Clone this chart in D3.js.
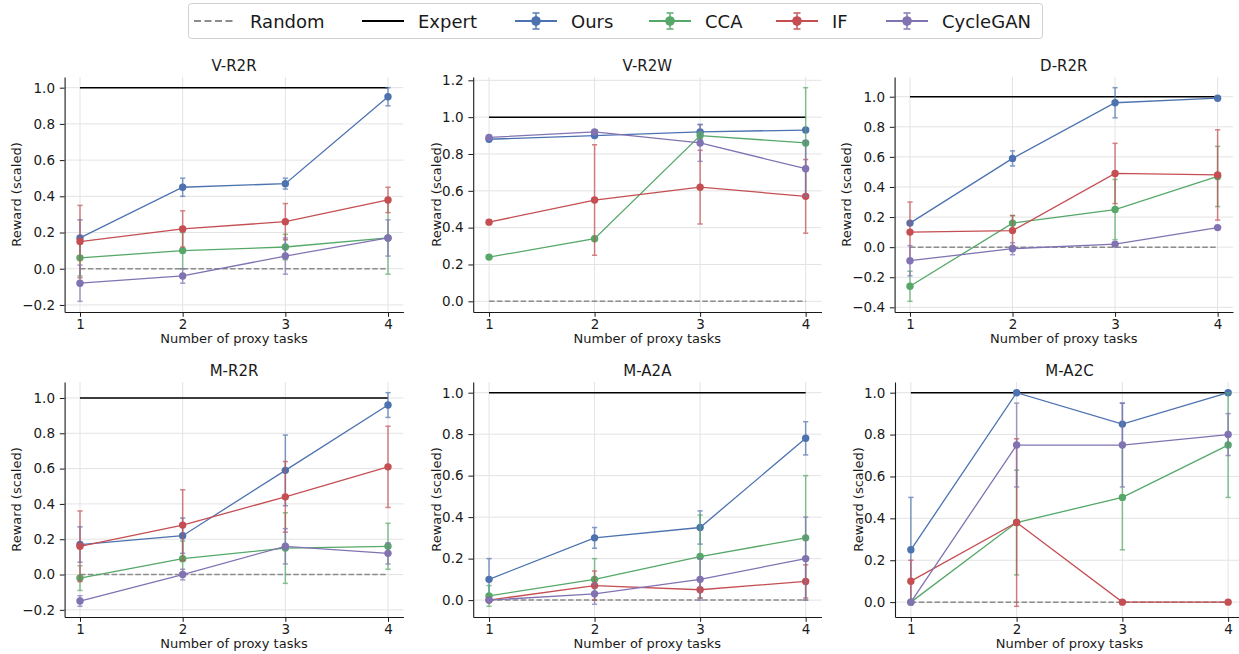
<!DOCTYPE html>
<html>
<head>
<meta charset="utf-8">
<script src="https://cdn.jsdelivr.net/npm/d3@7"></script>
<style>
  html, body { margin: 0; padding: 0; background: #fff; }
  svg { display: block; font-family: "DejaVu Sans", sans-serif; }
</style>
</head>
<body>
<svg id="chart" width="1239" height="654"></svg>
<script>
// ---------------- DATA ----------------
const tasks = [1, 2, 3, 4];
const methods = ["Ours", "CCA", "IF", "CycleGAN"];
const panelTitles = ["V-R2R", "V-R2W", "D-R2R", "M-R2R", "M-A2A", "M-A2C"];
const randomLevel = 0.0;
const expertLevel = 1.0;

// rows: Ours, CCA, IF, CycleGAN
const vR2R_mean = [[0.17, 0.45, 0.47, 0.95], [0.06, 0.10, 0.12, 0.17], [0.15, 0.22, 0.26, 0.38], [-0.08, -0.04, 0.07, 0.17]];
const vR2R_err  = [[0.10, 0.05, 0.03, 0.05], [0.10, 0.10, 0.07, 0.20], [0.20, 0.10, 0.10, 0.07], [0.10, 0.04, 0.10, 0.10]];

const vR2W_mean = [[0.88, 0.90, 0.92, 0.93], [0.24, 0.34, 0.90, 0.86], [0.43, 0.55, 0.62, 0.57], [0.89, 0.92, 0.86, 0.72]];
const vR2W_err  = [[0.01, 0.01, 0.04, 0.01], [0.01, 0.01, 0.02, 0.30], [0.01, 0.30, 0.20, 0.20], [0.01, 0.01, 0.10, 0.15]];

const dR2R_mean = [[0.16, 0.59, 0.96, 0.99], [-0.26, 0.16, 0.25, 0.47], [0.10, 0.11, 0.49, 0.48], [-0.09, -0.01, 0.02, 0.13]];
const dR2R_err  = [[0.01, 0.05, 0.10, 0.01], [0.10, 0.05, 0.20, 0.20], [0.20, 0.10, 0.20, 0.30], [0.10, 0.04, 0.01, 0.01]];

const mR2R_mean = [[0.17, 0.22, 0.59, 0.96], [-0.02, 0.09, 0.15, 0.16], [0.16, 0.28, 0.44, 0.61], [-0.15, 0.00, 0.16, 0.12]];
const mR2R_err  = [[0.10, 0.10, 0.20, 0.07], [0.07, 0.10, 0.20, 0.13], [0.20, 0.20, 0.20, 0.23], [0.03, 0.03, 0.10, 0.06]];

const mA2A_mean = [[0.10, 0.30, 0.35, 0.78], [0.02, 0.10, 0.21, 0.30], [0.00, 0.07, 0.05, 0.09], [0.00, 0.03, 0.10, 0.20]];
const mA2A_err  = [[0.10, 0.05, 0.08, 0.08], [0.05, 0.10, 0.20, 0.30], [0.01, 0.07, 0.04, 0.08], [0.01, 0.05, 0.10, 0.20]];

const mA2C_mean = [[0.25, 1.00, 0.85, 1.00], [0.00, 0.38, 0.50, 0.75], [0.10, 0.38, 0.00, 0.00], [0.00, 0.75, 0.75, 0.80]];
const mA2C_err  = [[0.25, 0.00, 0.10, 0.00], [0.00, 0.25, 0.25, 0.25], [0.10, 0.40, 0.00, 0.00], [0.00, 0.20, 0.20, 0.10]];

const yTicks_vR2R = [-0.2, 0.0, 0.2, 0.4, 0.6, 0.8, 1.0];
const yTicks_vR2W = [0.0, 0.2, 0.4, 0.6, 0.8, 1.0, 1.2];
const yTicks_dR2R = [-0.4, -0.2, 0.0, 0.2, 0.4, 0.6, 0.8, 1.0];
const yTicks_mR2R = [-0.2, 0.0, 0.2, 0.4, 0.6, 0.8, 1.0];
const yTicks_mA2A = [0.0, 0.2, 0.4, 0.6, 0.8, 1.0];
const yTicks_mA2C = [0.0, 0.2, 0.4, 0.6, 0.8, 1.0];

const xLabel = "Number of proxy tasks";
const yLabel = "Reward (scaled)";

// ---------------- STYLE / LAYOUT ----------------
const colors = { Ours: "#4C72B0", CCA: "#55A868", IF: "#C44E52", CycleGAN: "#8172B2" };
const randomColor = "#8c8c8c";
const expertColor = "#000000";

const panelMeans = [vR2R_mean, vR2W_mean, dR2R_mean, mR2R_mean, mA2A_mean, mA2C_mean];
const panelErrs  = [vR2R_err, vR2W_err, dR2R_err, mR2R_err, mA2A_err, mA2C_err];
const panelTicks = [yTicks_vR2R, yTicks_vR2W, yTicks_dR2R, yTicks_mR2R, yTicks_mA2A, yTicks_mA2C];

const boxes = [
  { x0: 64.6, x1: 403.4, y0: 77, y1: 312 },
  { x0: 473.2, x1: 821.5, y0: 77, y1: 312 },
  { x0: 894.6, x1: 1233.0, y0: 77, y1: 312 },
  { x0: 64.6, x1: 403.4, y0: 382, y1: 617 },
  { x0: 473.2, x1: 821.5, y0: 382, y1: 617 },
  { x0: 895.0, x1: 1244.0, y0: 382, y1: 617 }
];

const tickFont = 13.5, labelFont = 13, titleFont = 15, legendFont = 18;
const tickLen = 4.8, tickPad = 4.8;
const fmt = d3.format(".1f");

const svg = d3.select("#chart");

panelTitles.forEach((title, pi) => {
  const b = boxes[pi];
  const means = panelMeans[pi];
  const errs = panelErrs[pi];

  // y domain: data extents incl. errors, random & expert, with 5% margin
  let lo = Math.min(randomLevel, expertLevel), hi = Math.max(randomLevel, expertLevel);
  means.forEach((row, mi) => row.forEach((v, i) => {
    lo = Math.min(lo, v - errs[mi][i]);
    hi = Math.max(hi, v + errs[mi][i]);
  }));
  const pad = (hi - lo) * 0.05;
  const x = d3.scaleLinear().domain([tasks[0] - 0.15, tasks[tasks.length - 1] + 0.15]).range([b.x0, b.x1]);
  const y = d3.scaleLinear().domain([lo - pad, hi + pad]).range([b.y1, b.y0]);

  const g = svg.append("g");

  // grid
  g.append("g").selectAll("line").data(panelTicks[pi]).join("line")
    .attr("x1", b.x0).attr("x2", b.x1)
    .attr("y1", d => y(d)).attr("y2", d => y(d))
    .attr("stroke", "#e3e3e3").attr("stroke-width", 1);
  g.append("g").selectAll("line").data(tasks).join("line")
    .attr("x1", d => x(d)).attr("x2", d => x(d))
    .attr("y1", b.y0).attr("y2", b.y1)
    .attr("stroke", "#e3e3e3").attr("stroke-width", 1);

  // random & expert lines
  g.append("line")
    .attr("x1", x(tasks[0])).attr("x2", x(tasks[tasks.length - 1]))
    .attr("y1", y(randomLevel)).attr("y2", y(randomLevel))
    .attr("stroke", randomColor).attr("stroke-width", 1.5)
    .attr("stroke-dasharray", "5.5,2.4");
  g.append("line")
    .attr("x1", x(tasks[0])).attr("x2", x(tasks[tasks.length - 1]))
    .attr("y1", y(expertLevel)).attr("y2", y(expertLevel))
    .attr("stroke", expertColor).attr("stroke-width", 1.5);

  // series
  methods.forEach((m, mi) => {
    const c = colors[m];
    const pts = tasks.map((t, i) => ({ t, v: means[mi][i], e: errs[mi][i] }));
    const sg = g.append("g");
    // error bars
    const eb = sg.append("g").attr("stroke", c).attr("stroke-width", 1.5).attr("opacity", 0.7);
    pts.forEach(p => {
      if (p.e <= 0) return;
      eb.append("line").attr("x1", x(p.t)).attr("x2", x(p.t))
        .attr("y1", y(p.v - p.e)).attr("y2", y(p.v + p.e));
      [p.v - p.e, p.v + p.e].forEach(cv => {
        eb.append("line").attr("x1", x(p.t) - 2.6).attr("x2", x(p.t) + 2.6)
          .attr("y1", y(cv)).attr("y2", y(cv));
      });
    });
    sg.append("path").datum(pts)
      .attr("fill", "none").attr("stroke", c).attr("stroke-width", 1.3)
      .attr("d", d3.line().x(d => x(d.t)).y(d => y(d.v)));
    sg.selectAll("circle").data(pts).join("circle")
      .attr("cx", d => x(d.t)).attr("cy", d => y(d.v)).attr("r", 3.7)
      .attr("fill", c);
  });

  // axes
  const ya = g.append("g").attr("transform", `translate(${b.x0},0)`)
    .call(d3.axisLeft(y).tickValues(panelTicks[pi]).tickFormat(fmt)
      .tickSize(tickLen).tickPadding(tickPad).tickSizeOuter(0));
  const xa = g.append("g").attr("transform", `translate(0,${b.y1})`)
    .call(d3.axisBottom(x).tickValues(tasks).tickFormat(d3.format("d"))
      .tickSize(tickLen).tickPadding(tickPad).tickSizeOuter(0));
  [ya, xa].forEach(a => {
    a.selectAll("text").attr("font-size", tickFont).attr("fill", "#1a1a1a")
      .attr("font-family", "DejaVu Sans");
    a.selectAll("line").attr("stroke", "#1a1a1a").attr("stroke-width", 1);
    a.select(".domain").attr("stroke", "#1a1a1a").attr("stroke-width", 1.1);
  });
  xa.selectAll("text").attr("dy", null).attr("y", null)
    .attr("transform", null).attr("dominant-baseline", null)
    .attr("y", 17);

  // title
  g.append("text").attr("x", (b.x0 + Math.min(b.x1, 1239 + (b.x1 - 1239))) / 2)
    .attr("y", b.y0 - 6).attr("text-anchor", "middle")
    .attr("font-size", titleFont).attr("fill", "#1a1a1a").text(title);

  // x label
  g.append("text").attr("x", (b.x0 + b.x1) / 2).attr("y", b.y1 + 31)
    .attr("text-anchor", "middle").attr("font-size", labelFont).attr("fill", "#1a1a1a")
    .text(xLabel);

  // y label
  const bb = ya.node().getBBox();
  const bx = b.x0 + bb.x - 1;
  g.append("text").attr("transform", `translate(${bx},${(b.y0 + b.y1) / 2}) rotate(-90)`)
    .attr("text-anchor", "middle").attr("font-size", labelFont).attr("fill", "#1a1a1a")
    .text(yLabel);
});

// ---------------- LEGEND ----------------
const legendItems = [
  { name: "Random", kind: "dash", color: randomColor, tx: 250 },
  { name: "Expert", kind: "line", color: expertColor, tx: 418 },
  { name: "Ours", kind: "err", color: colors.Ours, tx: 571 },
  { name: "CCA", kind: "err", color: colors.CCA, tx: 705 },
  { name: "IF", kind: "err", color: colors.IF, tx: 832 },
  { name: "CycleGAN", kind: "err", color: colors.CycleGAN, tx: 942 }
];
const lg = svg.append("g");
lg.append("rect").attr("x", 188.5).attr("y", 3.5).attr("width", 854).attr("height", 35)
  .attr("rx", 3).attr("fill", "#fff").attr("fill-opacity", 0.8)
  .attr("stroke", "#d0d0d0").attr("stroke-width", 1);
const ly = 21;
legendItems.forEach(it => {
  const hx1 = it.tx - 14, hx0 = hx1 - 42, hm = (hx0 + hx1) / 2;
  if (it.kind === "dash") {
    lg.append("line").attr("x1", hx0).attr("x2", hx1).attr("y1", ly).attr("y2", ly)
      .attr("stroke", it.color).attr("stroke-width", 2).attr("stroke-dasharray", "7,3.5");
  } else if (it.kind === "line") {
    lg.append("line").attr("x1", hx0).attr("x2", hx1).attr("y1", ly).attr("y2", ly)
      .attr("stroke", it.color).attr("stroke-width", 2);
  } else {
    lg.append("line").attr("x1", hx0).attr("x2", hx1).attr("y1", ly).attr("y2", ly)
      .attr("stroke", it.color).attr("stroke-width", 2);
    const e = lg.append("g").attr("stroke", it.color).attr("stroke-width", 1.8).attr("opacity", 0.8);
    e.append("line").attr("x1", hm).attr("x2", hm).attr("y1", ly - 8).attr("y2", ly + 8);
    e.append("line").attr("x1", hm - 3.5).attr("x2", hm + 3.5).attr("y1", ly - 8).attr("y2", ly - 8);
    e.append("line").attr("x1", hm - 3.5).attr("x2", hm + 3.5).attr("y1", ly + 8).attr("y2", ly + 8);
    lg.append("circle").attr("cx", hm).attr("cy", ly).attr("r", 4.8).attr("fill", it.color);
  }
  lg.append("text").attr("x", it.tx).attr("y", ly + 6.5).attr("font-size", legendFont)
    .attr("fill", "#1a1a1a").text(it.name);
});
</script>
</body>
</html>
